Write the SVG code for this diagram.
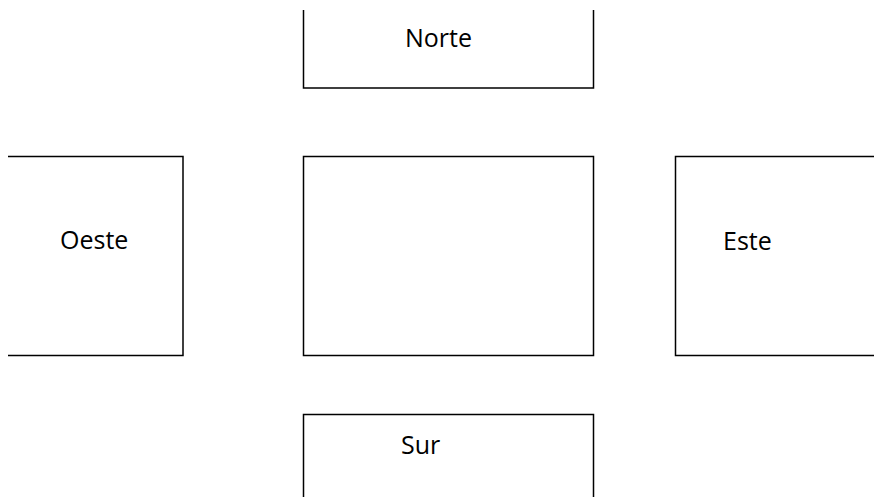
<svg xmlns="http://www.w3.org/2000/svg" width="874" height="497" viewBox="0 0 874 497">
<style>
.box{fill:none;stroke:#000;stroke-width:1.5}
.lbl{font-family:"Open Sans","Noto Sans",sans-serif;font-size:25px;fill:#000}
</style>
<rect width="874" height="497" fill="#fff"/>
<g id="norte"><path class="box" d="M303.5,10 V88 H593.5 V10"/><text class="lbl" x="405" y="47">Norte</text></g>
<g id="oeste"><path class="box" d="M8,156.5 H183 V355.5 H8"/><text class="lbl" x="60" y="249">Oeste</text></g>
<g id="centro"><rect class="box" x="303.5" y="156.5" width="290" height="199"/></g>
<g id="este"><path class="box" d="M876,156.5 H675.5 V355.5 H876"/><text class="lbl" x="723" y="250">Este</text></g>
<g id="sur"><path class="box" d="M303.5,499 V414.5 H593.5 V499"/><text class="lbl" x="401" y="454">Sur</text></g>
<g id="connectors"></g>
</svg>
